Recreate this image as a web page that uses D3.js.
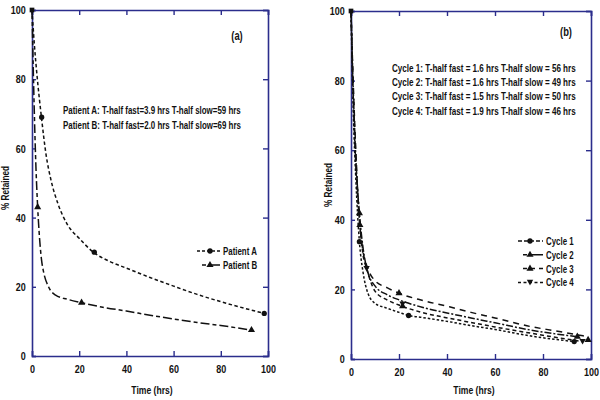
<!DOCTYPE html>
<html>
<head>
<meta charset="utf-8">
<script src="https://cdn.jsdelivr.net/npm/d3@7"></script>
<style>
  body { margin: 0; background: #fff; }
  svg text { font-family: "Liberation Sans", Arial, sans-serif; font-weight: bold; fill: #111; }
</style>
</head>
<body>
<svg id="chart" width="600" height="400"></svg>
<script>
// Panel (a) fitted curves: [time, % retained]
const patientACurve = [[0,100],[1,90],[2,82],[4,69],[6,58],[8,51],[11,44],[15,38],[20,34],[26,30],[33,27.3],[40,25.4],[50,22.7],[60,20.2],[70,17.8],[80,15.7],[90,13.8],[98.4,12.3]];
const patientBCurve = [[0,100],[0.5,84],[1,70],[1.5,58],[2.4,43],[3,36],[4,28],[5,24],[7,20],[10,17.6],[15,16.4],[21,15.4],[30,14.1],[40,13],[50,11.8],[60,10.7],[70,9.7],[80,8.8],[93,7.5]];
// Panel (a) measured points
const patientAPoints = [[0,100],[4.1,69],[26.4,30],[98.4,12.3]];
const patientBPoints = [[2.4,43],[21,15.4],[93,7.5]];

// Panel (b) fitted curves
const cycle1Curve = [[0,100],[1,70],[2,52],[3.5,33.7],[5,25],[7,19],[10,16],[15,14.6],[20,13.4],[24,12.5],[30,11.9],[41,10.7],[50,9.6],[60,8.5],[75,6.6],[93,5]];
const cycle2Curve = [[0,100],[1,76],[2,58],[3.5,42],[5,32],[7,25],[10,21],[15,18.5],[20,17],[30,14.8],[41,13.1],[50,11.8],[60,10.4],[75,8.3],[94.3,6.4]];
const cycle3Curve = [[0,100],[1,78],[2,60],[3.7,38.5],[5,31],[7,26],[10,22.5],[15,20.5],[20,18.9],[30,16.8],[41,15],[50,13.4],[60,11.8],[75,9.3],[85,8.1],[98.8,6.4]];
const cycle4Curve = [[0,100],[1,74],[2,56],[3.5,40],[5,30],[6.5,26],[10,19.5],[15,17],[20,15.5],[30,13.3],[41,11.7],[50,10.5],[60,9.2],[75,7.4],[96.5,5]];
// Panel (b) measured points
const cycle1Points = [[0,100],[3.5,33.7],[24,12.5],[93,5]];
const cycle2Points = [[3.5,41.9],[21.5,15.2],[94.3,6.4]];
const cycle3Points = [[3.7,38.5],[20,18.9],[98.8,5.5]];
const cycle4Points = [[6.5,26],[21.5,15.8],[96.5,5]];

const xTicks = [0, 20, 40, 60, 80, 100];
const yTicks = [0, 20, 40, 60, 80, 100];

const notesA = ["Patient A: T-half fast=3.9 hrs T-half slow=59 hrs", "Patient B: T-half fast=2.0 hrs T-half slow=69 hrs"];
const notesB = [
  "Cycle 1: T-half fast = 1.6 hrs T-half slow = 56 hrs",
  "Cycle 2: T-half fast = 1.6 hrs T-half slow = 49 hrs",
  "Cycle 3: T-half fast = 1.5 hrs T-half slow = 50 hrs",
  "Cycle 4: T-half fast = 1.9 hrs T-half slow = 46 hrs"
];

const frameColor = "#2b2d8c";
const narrow = 0.78; // the original uses a condensed face
const svg = d3.select("#chart");

// places a text at x,y squeezed horizontally
function condense(sel, x, y, k) {
  sel.attr("transform", `translate(${x},${y}) scale(${k},1)`);
}

function symbolPath(kind) {
  if (kind === "circle") return d3.symbol(d3.symbolCircle, 22)();
  if (kind === "square") return d3.symbol(d3.symbolSquare, 22)();
  if (kind === "inv") return "M0,3L3.2,-2.6L-3.2,-2.6Z";
  return d3.symbol(d3.symbolTriangle, 22)();
}

function drawPanel(cfg) {
  const x = d3.scaleLinear().domain([0, 100]).range(cfg.xRange);
  const y = d3.scaleLinear().domain([0, 100]).range(cfg.yRange);
  const g = svg.append("g");

  // inward ticks on all four sides
  g.append("g").attr("transform", `translate(0,${cfg.yRange[0]})`)
    .call(d3.axisBottom(x).tickValues(xTicks).tickSize(-5).tickPadding(9).tickFormat(d3.format("d")));
  g.append("g").attr("transform", `translate(0,${cfg.yRange[1]})`)
    .call(d3.axisTop(x).tickValues(xTicks).tickSize(-5).tickFormat(""));
  g.append("g").attr("transform", `translate(${cfg.xRange[0]},0)`)
    .call(d3.axisLeft(y).tickValues(yTicks).tickSize(-4).tickPadding(8).tickFormat(d3.format("d")));
  g.append("g").attr("transform", `translate(${cfg.xRange[1]},0)`)
    .call(d3.axisRight(y).tickValues(yTicks).tickSize(-5).tickFormat(""));
  g.selectAll(".domain").attr("stroke", frameColor).attr("stroke-width", 1.6);
  g.selectAll(".tick line").attr("stroke", frameColor).attr("stroke-width", 1.4);
  g.selectAll(".tick text").attr("font-size", 11.5).attr("fill", "#111")
    .attr("transform", `scale(${narrow},1)`);

  // axis titles
  g.append("text").attr("text-anchor", "middle").attr("font-size", 10.5).text("% Retained")
    .attr("transform", `translate(${cfg.yTitleX},${cfg.yTitleY}) rotate(-90) scale(${narrow},1)`);
  g.append("text").attr("text-anchor", "middle").attr("font-size", 11).text("Time (hrs)")
    .call(condense, cfg.xTitleX, 394, narrow);

  const line = d3.line().x(d => x(d[0])).y(d => y(d[1])).curve(d3.curveMonotoneX);

  cfg.series.forEach(s => {
    g.append("path").datum(s.curve)
      .attr("fill", "none").attr("stroke", "#111").attr("stroke-width", 1.5)
      .attr("stroke-dasharray", s.dash).attr("d", line);
    g.selectAll(null).data(s.points).join("path")
      .attr("transform", d => `translate(${x(d[0])},${y(d[1])})`)
      .attr("d", (d, i) => symbolPath(d[0] === 0 ? "square" : s.symbol)).attr("fill", "#111");
  });

  // panel tag and notes
  g.append("text").attr("text-anchor", "middle").attr("font-size", 12).text(cfg.tag)
    .call(condense, cfg.tagX, cfg.tagY, narrow);
  g.selectAll(null).data(cfg.notes).join("text")
    .attr("font-size", 10.5)
    .text(d => d)
    .each(function (d, i) {
      const k = cfg.noteWidth / this.getComputedTextLength();
      d3.select(this).call(condense, cfg.noteX, cfg.noteY + i * cfg.noteStep, k);
    });

  // legend
  const leg = g.selectAll(null).data(cfg.series).join("g")
    .attr("transform", (d, i) => `translate(${cfg.legX},${cfg.legY + i * cfg.legStep})`);
  leg.append("line").attr("x1", d => d.legX1).attr("x2", -2).attr("y1", 0).attr("y2", 0)
    .attr("stroke", "#111").attr("stroke-width", 1.5).attr("stroke-dasharray", d => d.legDash);
  leg.append("path").attr("transform", d => `translate(${d.legSym},0)`)
    .attr("d", d => symbolPath(d.symbol)).attr("fill", "#111");
  leg.append("text").attr("font-size", 11).text(d => d.name)
    .call(condense, 1, 4, narrow * 0.92);
}

drawPanel({
  xRange: [32, 268], yRange: [356, 10],
  yTitleX: 9, yTitleY: 188, xTitleX: 152,
  tag: "(a)", tagX: 237, tagY: 40,
  notes: notesA, noteX: 63, noteY: 114, noteStep: 15, noteWidth: 178,
  legX: 222, legY: 251, legStep: 14,
  series: [
    { name: "Patient A", curve: patientACurve, points: patientAPoints, dash: "3.5,2.5", symbol: "circle", legX1: -25, legSym: -12, legDash: "3,2" },
    { name: "Patient B", curve: patientBCurve, points: patientBPoints, dash: "9,3,4,3", symbol: "tri", legX1: -20, legSym: -12, legDash: "4,2,12" }
  ]
});

drawPanel({
  xRange: [351, 591], yRange: [359, 11],
  yTitleX: 332, yTitleY: 185, xTitleX: 474,
  tag: "(b)", tagX: 566, tagY: 36,
  notes: notesB, noteX: 392, noteY: 72, noteStep: 14.2, noteWidth: 184,
  legX: 545, legY: 241, legStep: 13.8,
  series: [
    { name: "Cycle 1", curve: cycle1Curve, points: cycle1Points, dash: "2.5,2", symbol: "circle", legX1: -27, legSym: -15, legDash: "4,2" },
    { name: "Cycle 2", curve: cycle2Curve, points: cycle2Points, dash: "7,2,2,2", symbol: "tri", legX1: -22, legSym: -15, legDash: "4,2,20" },
    { name: "Cycle 3", curve: cycle3Curve, points: cycle3Points, dash: "6,5", symbol: "tri", legX1: -22, legSym: -15, legDash: "4,3,5,4" },
    { name: "Cycle 4", curve: cycle4Curve, points: cycle4Points, dash: "4,3", symbol: "inv", legX1: -27, legSym: -15, legDash: "3,2.5" }
  ]
});
</script>
</body>
</html>
